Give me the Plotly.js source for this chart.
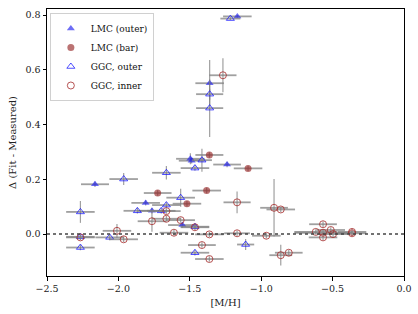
<!DOCTYPE html>
<html><head><meta charset="utf-8">
<script src="https://cdn.plot.ly/plotly-3.0.1.min.js"></script>
<style>html,body{margin:0;padding:0;background:#fff}#chart{width:418px;height:314px}</style>
</head><body><div id="chart"></div>
<script>
// LMC (outer)
const lmcOuterX    = [-1.167, -1.361, -1.496, -1.487, -1.239, -2.164, -1.809, -1.765, -1.552];
const lmcOuterY    = [ 0.795,  0.551,  0.275,  0.268,  0.254,  0.182,  0.114,  0.085,  0.033];
const lmcOuterXerr = [ 0.10,   0.10,   0.10,   0.09,   0.097,  0.098,  0.10,   0.10,   0.10];
const lmcOuterYerr = [ 0.005,  0.085,  0.02,   0.01,   0.01,   0.01,   0.01,   0.01,   0.01];
// LMC (bar)
const lmcBarX    = [-1.363, -1.092, -1.725, -1.382, -1.520];
const lmcBarY    = [ 0.289,  0.240,  0.150,  0.159,  0.111];
const lmcBarXerr = [ 0.098,  0.10,   0.097,  0.10,   0.10];
const lmcBarYerr = [ 0.01,   0.01,   0.01,   0.01,   0.01];
// GGC, outer
const ggcOuterX    = [-1.216, -1.361, -1.361, -1.415, -1.464, -1.664, -1.963, -1.564, -1.664, -1.867, -1.700, -2.266, -1.464, -2.061, -2.266, -2.266, -1.109, -1.464];
const ggcOuterY    = [ 0.787,  0.511,  0.460,  0.270,  0.241,  0.224,  0.201,  0.133,  0.106,  0.085,  0.085,  0.081,  0.027, -0.012, -0.010, -0.049, -0.038, -0.068];
const ggcOuterXerr = [ 0.07,   0.095,  0.095,  0.07,   0.10,   0.10,   0.10,   0.10,   0.10,   0.097,  0.10,   0.10,   0.10,   0.10,   0.10,   0.10,   0.06,   0.10];
const ggcOuterYerr = [ 0.005,  0.02,   0.105,  0.042,  0.01,   0.025,  0.022,  0.033,  0.01,   0.01,   0.01,   0.04,   0.01,   0.01,   0.01,   0.01,   0.02,   0.01];
// GGC, inner
const ggcInnerX    = [-1.268, -1.169, -1.664, -1.664, -1.765, -1.564, -1.464, -1.611, -1.363, -1.169, -1.415, -1.363, -2.010, -1.963, -2.266, -0.910, -0.863, -0.964, -0.863, -0.807, -0.567, -0.618, -0.567, -0.567, -0.513, -0.497, -0.364, -0.364];
const ggcInnerY    = [ 0.580,  0.116,  0.084,  0.056,  0.047,  0.051,  0.025,  0.005, -0.001,  0.003, -0.040, -0.091,  0.012, -0.019, -0.012,  0.096,  0.090, -0.006, -0.077, -0.068,  0.036,  0.008,  0.005, -0.012,  0.015,  0.000,  0.008,  0.003];
const ggcInnerXerr = [ 0.095,  0.095,  0.10,   0.10,   0.10,   0.10,   0.10,   0.10,   0.10,   0.09,   0.097,  0.10,   0.10,   0.10,   0.10,   0.097,  0.10,   0.10,   0.08,   0.097,  0.097,  0.15,   0.20,   0.10,   0.10,   0.10,   0.10,   0.10];
const ggcInnerYerr = [ 0.062,  0.04,   0.01,   0.01,   0.038,  0.01,   0.01,   0.01,   0.01,   0.01,   0.01,   0.01,   0.025,  0.01,   0.01,   0.105,  0.01,   0.01,   0.038,  0.01,   0.01,   0.01,   0.01,   0.01,   0.01,   0.01,   0.01,   0.01];

const xTicks = [-2.5, -2.0, -1.5, -1.0, -0.5, 0.0];
const yTicks = [0.0, 0.2, 0.4, 0.6, 0.8];

const errCol = 'rgba(128,128,128,0.75)';
function ex(a){return {type:'data', array:a, visible:true, color:errCol, thickness:1.8, width:0};}
function ey(a){return {type:'data', array:a, visible:true, color:errCol, thickness:1.2, width:0};}

const traces = [
  {x:lmcOuterX, y:lmcOuterY, name:'LMC (outer)', mode:'markers', type:'scatter',
   error_x:ex(lmcOuterXerr), error_y:ey(lmcOuterYerr),
   marker:{symbol:'triangle-up', size:7, color:'rgba(30,30,240,0.65)', line:{width:0}}},
  {x:lmcBarX, y:lmcBarY, name:'LMC (bar)', mode:'markers', type:'scatter',
   error_x:ex(lmcBarXerr), error_y:ey(lmcBarYerr),
   marker:{symbol:'circle', size:7, color:'rgba(150,40,40,0.65)', line:{width:0}}},
  {x:ggcOuterX, y:ggcOuterY, name:'GGC, outer', mode:'markers', type:'scatter',
   error_x:ex(ggcOuterXerr), error_y:ey(ggcOuterYerr),
   marker:{symbol:'triangle-up-open', size:7, color:'rgba(20,20,255,0.75)', line:{width:1}}},
  {x:ggcInnerX, y:ggcInnerY, name:'GGC, inner', mode:'markers', type:'scatter',
   error_x:ex(ggcInnerXerr), error_y:ey(ggcInnerYerr),
   marker:{symbol:'circle-open', size:7, color:'rgba(165,42,42,0.8)', line:{width:1}}}
];

const fnt = {family:'DejaVu Serif, serif', size:9.5, color:'#222'};
const layout = {
  width:418, height:314,
  margin:{l:47, r:14, t:9, b:38},
  paper_bgcolor:'#fff', plot_bgcolor:'#fff',
  font:fnt,
  showlegend:true,
  legend:{x:0.008, y:0.985, xanchor:'left', yanchor:'top', bgcolor:'rgba(255,255,255,0.9)',
          bordercolor:'#d0d0d0', borderwidth:1, itemwidth:30,
          font:{family:'DejaVu Serif, serif', size:9, color:'#111'}},
  xaxis:{range:[-2.5, 0], tickvals:xTicks, ticktext:xTicks.map(v=>v.toFixed(1).replace('-', '\u2212')),
         showline:true, mirror:true, linecolor:'#000', linewidth:1,
         ticks:'outside', ticklen:3.5, tickcolor:'#000', showgrid:false, zeroline:false,
         title:{text:'[M/H]', font:{family:'DejaVu Serif, serif', size:10}, standoff:6}},
  yaxis:{range:[-0.153, 0.822], tickvals:yTicks, ticktext:yTicks.map(v=>v.toFixed(1)),
         showline:true, mirror:true, linecolor:'#000', linewidth:1,
         ticks:'outside', ticklen:3.5, tickcolor:'#000', showgrid:false, zeroline:false,
         title:{text:'\u0394 (Fit - Measured)', font:{family:'DejaVu Serif, serif', size:10}, standoff:6}},
  shapes:[{type:'line', xref:'paper', x0:0, x1:1, yref:'y', y0:0, y1:0,
           line:{color:'#444', width:1.5, dash:'dot'}}]
};
Plotly.newPlot('chart', traces, layout, {staticPlot:true, displayModeBar:false});
</script></body></html>
